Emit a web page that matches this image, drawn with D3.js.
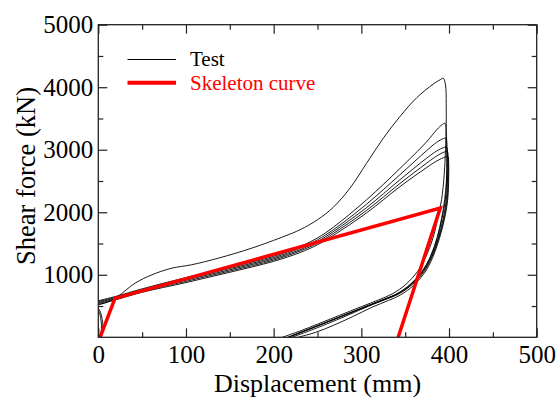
<!DOCTYPE html>
<html><head><meta charset="utf-8">
<script src="https://cdn.jsdelivr.net/npm/d3@7"></script>
<style>body{margin:0;background:#fff}svg{display:block}text{font-family:"Times New Roman","Liberation Serif",serif}</style>
</head><body><svg id="c" width="558" height="398"></svg>
<script>
// ---------- data ----------
const xTicks = [0, 100, 200, 300, 400, 500];
const yTicks = [1000, 2000, 3000, 4000, 5000];
const xMinorTicks = [50, 150, 250, 350, 450];
const yMinorTicks = [500, 1500, 2500, 3500, 4500];

const skeletonX = [2, 19, 390, 342];
const skeletonF = [0, 622, 2068, 0];

// first (largest) cycle
const cycle1X = [0, 10, 22, 42, 61, 84, 106, 137, 175, 213, 230, 250, 268, 287, 306, 325, 344, 363, 382, 390, 393.5, 396, 396.8, 396.8, 396, 394.5, 391.5, 387, 382, 374, 364, 351, 336, 320, 300, 275, 250, 230, 210, 200];
const cycle1F = [520, 560, 652, 866, 999, 1106, 1159, 1266, 1426, 1620, 1720, 1880, 2080, 2385, 2784, 3184, 3530, 3830, 4050, 4120, 4143, 4036, 3740, 3420, 3000, 2600, 2200, 1900, 1600, 1300, 1050, 850, 700, 600, 490, 350, 210, 100, 0, -60];

const cycle2X = [0, 20, 50, 100, 150, 200, 230, 250, 268, 306, 344, 374, 386, 393, 395.5, 397, 397.5, 397, 395, 391.5, 386.5, 379, 369, 356, 341, 326, 306, 281, 256, 236, 216, 206];
const cycle2F = [585, 655, 775, 955, 1120, 1295, 1450, 1590, 1760, 2200, 2700, 3120, 3320, 3410, 3424, 3250, 2900, 2500, 2200, 1900, 1600, 1300, 1050, 850, 700, 610, 500, 360, 220, 110, 0, -60];

const cycle3X = [0, 20, 50, 100, 150, 200, 230, 250, 268, 306, 344, 374, 386, 393, 396.2, 397.6, 397.8, 397, 395.3, 392, 387, 379.5, 369.5, 356.5, 341.5, 326.5, 306.5, 281.5, 256.5, 236.5, 216.5, 206];
const cycle3F = [570, 642, 762, 935, 1100, 1275, 1425, 1560, 1720, 2130, 2600, 2980, 3120, 3175, 3184, 3000, 2700, 2400, 2150, 1900, 1600, 1300, 1050, 850, 700, 610, 500, 360, 220, 110, 0, -60];

const cycle4X = [0, 20, 50, 100, 150, 200, 230, 250, 268, 306, 344, 374, 386, 394, 397.3, 398.4, 398.5, 397.8, 396, 393, 388, 380.5, 370.5, 357.5, 342.5, 327.5, 307.5, 282.5, 257.5, 237.5, 217.5, 207];
const cycle4F = [555, 630, 748, 915, 1080, 1255, 1400, 1530, 1690, 2075, 2520, 2860, 2980, 3035, 3040, 2900, 2650, 2350, 2100, 1880, 1600, 1300, 1050, 850, 700, 610, 500, 360, 220, 110, 0, -60];

const cycle5X = [0, 20, 50, 100, 150, 200, 230, 250, 268, 306, 344, 374, 386, 395, 398, 399, 399.1, 398.4, 396.6, 393.6, 388.6, 381, 371.5, 358.5, 343.5, 328.5, 308.5, 284, 260, 240, 221, 210];
const cycle5F = [540, 615, 735, 895, 1060, 1235, 1380, 1505, 1660, 2030, 2460, 2780, 2900, 2965, 2970, 2850, 2600, 2300, 2080, 1860, 1600, 1300, 1050, 850, 700, 610, 500, 350, 210, 100, 0, -60];

const cycle6X = [0, 20, 50, 100, 150, 200, 230, 250, 268, 306, 344, 374, 386, 396, 398.8, 399.6, 399.6, 398.8, 397, 394, 389, 381.5, 372, 359.5, 345, 331, 312, 290, 268, 248, 228, 216];
const cycle6F = [525, 600, 720, 875, 1040, 1215, 1355, 1480, 1630, 1990, 2410, 2710, 2820, 2885, 2890, 2780, 2550, 2250, 2050, 1840, 1580, 1280, 1030, 830, 680, 590, 480, 330, 190, 80, 0, -50];

// small branches near the origin
const originArc1X = [0, 2.5, 4.5, 5.2, 4, 2];
const originArc1F = [470, 400, 280, 160, 60, 0];
const originArc2X = [0, 1.8, 3.2, 3.6, 2.6, 1.2];
const originArc2F = [440, 370, 260, 140, 40, 0];

const testSeries = [
  [cycle1X, cycle1F], [cycle2X, cycle2F], [cycle3X, cycle3F], [cycle4X, cycle4F],
  [cycle5X, cycle5F], [cycle6X, cycle6F], [originArc1X, originArc1F], [originArc2X, originArc2F]
];

// ---------- layout ----------
const svg = d3.select("#c");
const L = 98.3, R = 536.7, T = 24.7, B = 337.3;
const x = d3.scaleLinear().domain([0, 500]).range([L, R]);
const y = d3.scaleLinear().domain([0, 5000]).range([B, T]);
const serif = '"Times New Roman","Liberation Serif",serif';

svg.append("defs").append("clipPath").attr("id", "clip")
  .append("rect").attr("x", L).attr("y", T).attr("width", R - L).attr("height", B - T);

const plot = svg.append("g").attr("clip-path", "url(#clip)");
const line = d3.line().x(d => x(d[0])).y(d => y(d[1])).curve(d3.curveCatmullRom.alpha(0.5));

testSeries.forEach(([xs, fs]) => {
  plot.append("path").datum(xs.map((v, i) => [v, fs[i]]))
    .attr("d", line).attr("fill", "none").attr("stroke", "#000").attr("stroke-width", 0.9);
});

plot.append("path").datum(skeletonX.map((v, i) => [v, skeletonF[i]]))
  .attr("d", d3.line().x(d => x(d[0])).y(d => y(d[1])))
  .attr("fill", "none").attr("stroke", "#ff0000").attr("stroke-width", 3.5).attr("stroke-linejoin", "miter");

// ---------- axes ----------
const axisColor = "#222";
const fontSize = 25;
const majorLen = 9, minorLen = 5;

function styleAxis(g) {
  g.select(".domain").remove();
  g.selectAll("line").attr("stroke", axisColor).attr("stroke-width", 1.2);
}

// bottom
svg.append("g").attr("transform", `translate(0,${B})`)
  .call(d3.axisBottom(x).tickValues(xTicks).tickSizeInner(-majorLen).tickSizeOuter(0).tickPadding(8))
  .call(styleAxis)
  .call(g => g.selectAll("text").attr("font-size", fontSize).attr("fill", "#000").attr("font-family", serif));
svg.append("g").attr("transform", `translate(0,${B})`)
  .call(d3.axisBottom(x).tickValues(xMinorTicks).tickSizeInner(-minorLen).tickSizeOuter(0).tickFormat(""))
  .call(styleAxis);
// top
svg.append("g").attr("transform", `translate(0,${T})`)
  .call(d3.axisTop(x).tickValues(xTicks).tickSizeInner(-majorLen).tickSizeOuter(0).tickFormat(""))
  .call(styleAxis);
svg.append("g").attr("transform", `translate(0,${T})`)
  .call(d3.axisTop(x).tickValues(xMinorTicks).tickSizeInner(-minorLen).tickSizeOuter(0).tickFormat(""))
  .call(styleAxis);
// left
svg.append("g").attr("transform", `translate(${L},0)`)
  .call(d3.axisLeft(y).tickValues(yTicks).tickSizeInner(-majorLen).tickSizeOuter(0).tickPadding(5).tickFormat(d3.format("d")))
  .call(styleAxis)
  .call(g => g.selectAll("text").attr("font-size", fontSize).attr("fill", "#000").attr("font-family", serif));
svg.append("g").attr("transform", `translate(${L},0)`)
  .call(d3.axisLeft(y).tickValues(yMinorTicks).tickSizeInner(-minorLen).tickSizeOuter(0).tickFormat(""))
  .call(styleAxis);
// right
svg.append("g").attr("transform", `translate(${R},0)`)
  .call(d3.axisRight(y).tickValues(yTicks).tickSizeInner(-majorLen).tickSizeOuter(0).tickFormat(""))
  .call(styleAxis);
svg.append("g").attr("transform", `translate(${R},0)`)
  .call(d3.axisRight(y).tickValues(yMinorTicks).tickSizeInner(-minorLen).tickSizeOuter(0).tickFormat(""))
  .call(styleAxis);

// frame
svg.append("rect").attr("x", L).attr("y", T).attr("width", R - L).attr("height", B - T)
  .attr("fill", "none").attr("stroke", axisColor).attr("stroke-width", 1.3);

// titles
svg.append("text").attr("x", (L + R) / 2).attr("y", 392).attr("text-anchor", "middle")
  .attr("font-size", 26).text("Displacement (mm)");
svg.append("text").attr("transform", `translate(35,176) rotate(-90)`).attr("text-anchor", "middle")
  .attr("font-size", 26.5).text("Shear force (kN)");

// legend
const legend = svg.append("g");
legend.append("line").attr("x1", 127.5).attr("x2", 176).attr("y1", 59.5).attr("y2", 59.5)
  .attr("stroke", "#000").attr("stroke-width", 1);
legend.append("text").attr("x", 190).attr("y", 66).attr("font-size", 21).attr("fill", "#000").text("Test");
legend.append("line").attr("x1", 127.5).attr("x2", 176).attr("y1", 82.7).attr("y2", 82.7)
  .attr("stroke", "#ff0000").attr("stroke-width", 4);
legend.append("text").attr("x", 190).attr("y", 89.5).attr("font-size", 21).attr("fill", "#ff0000").text("Skeleton curve");
</script></body></html>
